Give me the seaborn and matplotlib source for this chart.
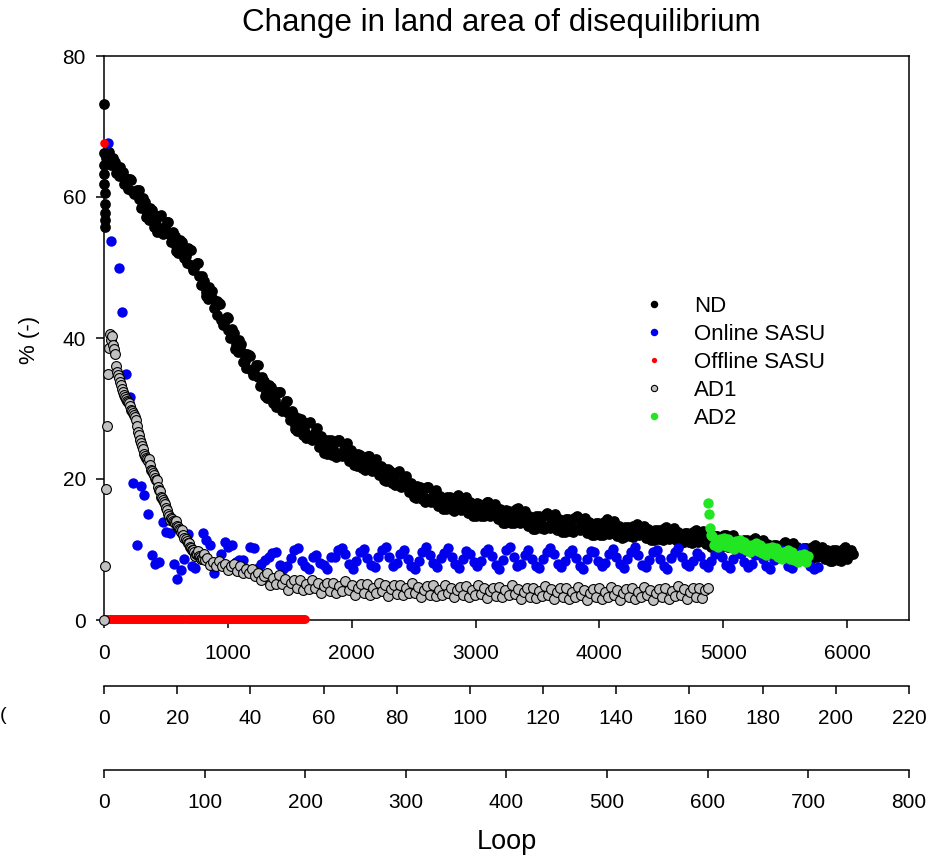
import matplotlib
matplotlib.use("Agg")
import matplotlib.pyplot as plt
from matplotlib.lines import Line2D
import seaborn as sns
import pandas as pd

sns.set_style("ticks")
plt.rcParams["font.family"] = ["Liberation Sans", "DejaVu Sans"]
plt.rcParams["text.color"] = "black"

# ---------------- data ----------------
# ND: plotted against the 0-6500 loop axis
nd_start_loop = [0, 1, 2, 3, 4, 5, 6, 7, 8, 9, 15, 20]
nd_start_val = [73.2, 66.2, 64.6, 63.2, 61.8, 60.6, 59.0, 57.8, 56.7, 55.8, 65.6, 66.1]

nd_loop_a = list(range(30, 6031, 30)) + [6045]
nd_val_a = [
    66.2, 64.6, 65.0, 63.0, 63.6, 62.0, 62.5, 60.4, 61.0,
    58.5, 59.3, 56.7, 58.1, 56.1, 57.3, 54.8, 56.4, 53.6, 54.5,
    52.0, 53.6, 51.6, 52.6, 49.6, 50.7, 47.5, 48.1, 45.5, 46.7,
    44.4, 44.9, 41.8, 43.0, 40.0, 40.7, 38.0, 39.1, 36.8, 37.6,
    34.7, 36.2, 33.2, 33.9, 31.5, 33.1, 31.2, 32.3, 29.6, 31.1,
    28.3, 29.2, 26.8, 28.5, 26.7, 28.0, 25.5, 27.1, 24.5, 25.7,
    23.6, 25.5, 24.0, 25.5, 23.2, 25.0, 22.5,
    23.7, 21.9, 23.4, 22.0, 23.2, 21.2, 22.7, 20.5, 21.5, 19.7,
    21.2, 19.8, 21.0, 18.9, 20.3, 18.1, 19.1, 17.3, 18.8, 17.5,
    18.8, 16.8, 18.3, 16.2, 17.3, 15.7, 17.4, 16.1, 17.5, 15.6,
    17.2, 15.2, 16.4, 14.8, 16.5, 15.3, 16.7, 14.7, 16.3, 14.3,
    15.4, 13.8, 15.5, 14.3, 15.7, 13.8, 15.3, 13.3, 14.5, 12.9,
    14.7, 13.5, 15.0, 13.1, 14.8, 12.8, 14.1, 12.5, 14.3, 13.1,
    14.6, 12.7, 14.3, 12.4, 13.6, 12.0, 13.8, 12.6, 14.1, 12.2,
    13.9, 11.9,
    13.0, 11.8, 13.2, 12.3, 13.4, 12.0, 13.2, 11.7, 12.6, 11.4,
    12.8, 11.9, 13.0, 11.5, 12.8, 11.3, 12.2, 11.0, 12.4, 11.5,
    12.6, 11.0, 12.4, 10.8, 11.7, 10.5, 11.9, 10.9, 12.0, 10.4,
    11.8, 10.2, 11.1, 9.8, 11.3, 10.3, 11.4, 9.9, 11.2, 9.6,
    10.6, 9.3, 10.7, 9.7, 10.9, 9.3, 10.7, 9.1, 10.0, 8.8,
    10.2, 9.3, 10.4, 8.9, 10.2, 8.7, 9.6, 8.4, 9.9, 8.9,
    10.1, 8.7, 10.0,
    9.3,
]

nd_loop_b = list(range(45, 6016, 30))
nd_val_b = [
    65.2, 65.5, 63.8, 63.5, 61.9, 62.6, 60.9, 60.8, 59.7,
    59.9, 57.7, 57.7, 55.8, 57.3, 55.3, 55.7, 54.7, 55.0, 53.0,
    53.1, 51.3, 52.7, 50.4, 50.3, 48.8, 48.8, 46.5, 46.4, 44.2,
    45.2, 42.6, 42.5, 41.2, 41.3, 39.1, 38.9, 36.6, 37.8, 35.4,
    35.6, 34.4, 34.5, 32.4, 32.6, 30.8, 32.3, 30.2, 30.5, 29.4,
    29.7, 27.7, 28.0, 26.3, 27.9, 26.0, 26.4, 25.5, 26.1, 24.4,
    24.9, 23.4, 25.3, 23.6, 24.2, 23.5, 24.1,
    22.6, 22.9, 21.6, 23.1, 21.6, 22.1, 21.4, 21.9, 20.4, 20.7,
    19.4, 20.9, 19.3, 19.7, 19.0, 19.5, 18.0, 18.3, 17.1, 18.7,
    17.2, 17.7, 17.0, 17.6, 16.3, 16.8, 15.7, 17.3, 15.9, 16.5,
    16.0, 16.7, 15.4, 15.9, 14.8, 16.5, 15.1, 15.6, 15.1, 15.7,
    14.4, 14.9, 13.8, 15.5, 14.1, 14.7, 14.1, 14.8, 13.5, 14.1,
    13.0, 14.8, 13.4, 14.1, 13.6, 14.3, 13.1, 13.7, 12.6, 14.4,
    13.0, 13.6, 13.1, 13.9, 12.6, 13.2, 12.1, 13.9, 12.5, 13.2,
    12.7, 13.4,
    12.2, 12.7, 11.9, 13.3, 12.2, 12.7, 12.3, 12.9, 11.8, 12.3,
    11.5, 12.9, 11.8, 12.3, 11.9, 12.5, 11.4, 11.9, 11.1, 12.5,
    11.3, 11.8, 11.4, 12.0, 10.9, 11.4, 10.5, 11.9, 10.7, 11.2,
    10.8, 11.4, 10.3, 10.8, 9.9, 11.3, 10.2, 10.7, 10.2, 10.8,
    9.8, 10.2, 9.3, 10.7, 9.6, 10.1, 9.7, 10.3, 9.2, 9.7,
    8.9, 10.3, 9.2, 9.7, 9.3, 9.9, 8.8, 9.4, 8.5, 9.9,
    8.9, 9.4,
]

nd_loop_c = list(range(40, 6011, 30))
nd_val_c = [
    66.4, 64.7, 63.4, 64.2, 62.8, 61.2, 62.4, 60.5, 61.0,
    58.7, 57.1, 58.5, 57.0, 55.1, 57.4, 55.3, 56.4, 53.8, 52.4,
    53.9, 52.5, 50.6, 52.5, 49.9, 50.6, 47.6, 45.9, 47.3, 45.5,
    43.2, 44.8, 42.1, 42.9, 40.1, 38.5, 39.7, 37.9, 35.7, 37.5,
    35.1, 36.1, 33.3, 31.8, 33.4, 32.0, 30.2, 32.3, 30.0, 31.1,
    28.5, 27.1, 28.7, 27.4, 25.8, 28.1, 26.0, 27.2, 24.8, 23.7,
    25.6, 24.5, 23.1, 25.6, 23.7, 25.1, 22.8,
    22.0, 23.6, 22.6, 21.3, 23.3, 21.7, 22.8, 20.8, 19.8, 21.4,
    20.4, 19.1, 21.1, 19.3, 20.4, 18.4, 17.4, 19.0, 18.0, 16.8,
    18.9, 17.3, 18.4, 16.5, 15.7, 17.5, 16.6, 15.5, 17.7, 16.1,
    17.4, 15.6, 14.8, 16.6, 15.8, 14.7, 16.8, 15.2, 16.5, 14.6,
    13.8, 15.6, 14.8, 13.7, 15.9, 14.3, 15.5, 13.7, 12.9, 14.7,
    14.0, 12.9, 15.2, 13.6, 15.0, 13.2, 12.5, 14.3, 13.6, 12.5,
    14.8, 13.2, 14.5, 12.8, 12.0, 13.8, 13.1, 12.0, 14.3, 12.7,
    14.1, 12.3,
    11.7, 13.2, 12.6, 11.8, 13.6, 12.3, 13.4, 12.0, 11.3, 12.8,
    12.2, 11.3, 13.2, 11.9, 13.0, 11.6, 10.9, 12.4, 11.8, 10.9,
    12.7, 11.5, 12.6, 11.1, 10.4, 11.9, 11.3, 10.3, 12.1, 10.9,
    12.0, 10.5, 9.8, 11.3, 10.7, 9.7, 11.6, 10.3, 11.4, 9.9,
    9.3, 10.7, 10.1, 9.2, 11.0, 9.8, 10.9, 9.4, 8.7, 10.2,
    9.6, 8.7, 10.6, 9.3, 10.4, 9.0, 8.3, 9.9, 9.3, 8.4,
    10.3, 9.1,
]

# Online SASU: plotted against the 0-220 loop axis
online_loop = [1, 2] + list(range(4, 196))
online_val = [
    67.7, 53.8,
    49.9, 43.7, 34.9, 31.7, 19.4, 10.6, 19.0, 17.8, 15.0, 9.2,
    8.0, 8.2, 13.9, 12.5, 12.3, 7.9, 5.8, 7.1, 8.6, 12.2,
    7.6, 7.4, 9.4, 12.4, 11.3, 10.6, 6.7, 8.1, 9.3, 11.0,
    10.4, 10.6, 8.2, 8.5, 8.5, 7.1, 10.3, 10.2, 7.4, 7.9,
    8.5, 9.0, 9.5, 9.7, 7.8, 7.2, 7.6, 8.8, 10.0, 10.2,
    8.3, 7.6, 7.3, 9.0, 9.2, 8.1, 7.8, 7.3, 9.0,
    9.0, 10.0, 10.2, 9.4, 8.0, 7.3, 8.3, 9.6, 10.1, 8.8,
    7.8, 7.5, 8.9, 9.9, 10.3, 9.0, 7.6, 8.1, 9.3, 10.0,
    8.6, 7.7, 7.2, 8.4, 9.7, 10.4, 9.2, 8.1, 7.5, 8.8,
    9.5, 10.2, 8.9, 7.9, 7.4, 8.6, 9.8, 9.4, 8.2, 7.6,
    8.3, 9.6, 10.1, 9.1, 7.8, 7.3, 8.5, 9.9, 10.3, 9.0,
    7.7, 8.0, 9.2, 9.9, 8.7, 7.6, 7.4, 8.7, 9.7, 10.2,
    9.3, 8.0, 7.5, 8.4, 9.5, 10.0, 8.8, 7.7, 7.3, 8.6,
    9.8, 9.6, 8.3, 7.6, 8.1, 9.4, 10.1, 9.0, 7.9, 7.4,
    8.7, 9.6, 10.3, 9.2, 7.8, 7.5, 8.5, 9.7, 9.9, 8.6,
    7.7, 7.3, 8.8, 9.6, 10.2, 9.0, 7.9, 7.6, 8.4, 9.5,
    9.1, 8.0, 7.5, 8.3, 9.4, 10.0, 8.9, 7.8, 7.4, 8.6,
    9.6, 9.3, 8.2, 7.5, 8.0, 9.2, 9.8, 8.7, 7.6, 7.3,
    8.5, 9.4, 9.9, 8.8, 7.7, 7.4, 8.3, 9.5, 10.2, 8.9,
    7.6, 7.2, 7.5,
]

# Offline SASU, AD1, AD2: plotted against the 0-800 loop axis
offline_loop = list(range(0, 201))
offline_val = [67.7] + [0.2] * 200

ad1_loop = list(range(0, 101)) + list(range(102, 601, 3))
ad1_val = [
    0.0, 7.7, 18.6, 27.5, 34.9, 38.6, 40.6, 39.7, 40.3, 39.0,
    38.4, 37.7, 36.0, 35.2, 34.8, 34.3, 33.8, 33.3, 32.8, 32.3,
    31.9, 31.6, 31.3, 31.1, 30.9, 30.8, 30.4, 29.8, 29.6, 29.3,
    29.1, 28.8, 28.4, 27.5, 26.7, 26.2, 25.6, 25.1, 24.7, 24.3,
    23.5, 23.2, 23.0, 22.8, 22.6, 22.9, 22.0, 21.3, 21.2, 20.8,
    20.5, 20.2, 19.9, 19.8, 18.9, 18.4, 18.3, 17.5, 17.3, 17.0,
    16.8, 16.4, 15.9, 15.6, 15.1, 14.7, 14.2, 14.4, 14.3, 14.1,
    13.9, 13.8, 14.0, 13.4, 13.2, 12.9, 12.7, 12.5, 12.8, 12.0,
    11.7, 11.5, 11.2, 10.9, 10.9, 10.4, 10.2, 10.0, 9.9, 9.7,
    9.1, 9.4, 9.3, 9.8, 9.1, 9.0, 8.6, 8.8, 8.7, 9.3,
    8.5,
    8.8, 7.8, 8.2, 7.7, 8.4, 7.6, 8.0, 7.1, 7.7, 7.9,
    7.0, 7.7, 6.7, 7.2, 6.6, 7.2, 6.3, 6.6, 5.7, 6.2,
    6.7, 5.0, 5.9, 5.1, 6.4, 5.1, 5.8, 4.3, 5.3, 5.7,
    4.5, 5.7, 4.2, 5.1, 4.4, 5.7, 4.5, 5.2, 3.8, 4.8,
    5.3, 4.1, 5.3, 3.8, 4.8, 4.1, 5.5, 4.2, 5.0, 3.6,
    4.6, 5.1, 3.9, 5.1, 3.6, 4.6, 3.9, 5.3, 4.1, 4.9,
    3.4, 4.4, 4.9, 3.7, 5.0, 3.5, 4.5, 3.8, 5.2, 3.9,
    4.7, 3.3, 4.3, 4.8, 3.6, 4.9, 3.4, 4.3, 3.6, 5.0,
    3.8, 4.6, 3.2, 4.2, 4.7, 3.5, 4.8, 3.3, 4.2, 3.5,
    4.9, 3.7, 4.5, 3.1, 4.1, 4.6, 3.4, 4.7, 3.2, 4.2,
    3.5, 4.9, 3.7, 4.4, 3.0, 4.0, 4.5, 3.3, 4.6, 3.1,
    4.1, 3.4, 4.8, 3.6, 4.4, 3.0, 4.0, 4.5, 3.3, 4.5,
    3.0, 4.0, 3.3, 4.7, 3.5, 4.3, 2.9, 3.9, 4.4, 3.2,
    4.5, 3.0, 4.0, 3.3, 4.7, 3.5, 4.3, 2.9, 3.9, 4.4,
    3.2, 4.5, 3.0, 4.0, 3.3, 4.7, 3.5, 4.3, 2.9, 3.9,
    4.4, 3.2, 4.5, 3.0, 4.1, 3.4, 4.8, 3.6, 4.4, 3.0,
    4.0, 4.5, 3.3, 4.6, 3.1, 4.2, 4.6,
]

ad2_loop = [600, 601, 602, 603] + list(range(604, 701, 2))
ad2_val = [
    16.6, 15.0, 13.0, 12.1,
    11.9, 10.7, 11.4, 10.4, 11.5, 10.8, 11.7, 10.5, 11.5, 10.4,
    11.0, 10.1, 11.2, 10.5, 11.3, 10.2, 11.1, 10.0, 10.6, 9.7,
    10.7, 10.1, 10.9, 9.8, 10.7, 9.5, 10.2, 9.2, 10.2, 9.6,
    10.4, 9.3, 10.2, 9.0, 9.7, 8.7, 9.7, 9.1, 9.9, 8.7,
    9.7, 8.5, 9.1, 8.2, 9.2, 8.5, 9.4, 8.2, 9.1,
]

series_names = ["ND", "Online SASU", "Offline SASU", "AD1", "AD2"]
main_ticks = [0, 1000, 2000, 3000, 4000, 5000, 6000]
mid_ticks = [0, 20, 40, 60, 80, 100, 120, 140, 160, 180, 200, 220]
low_ticks = [0, 100, 200, 300, 400, 500, 600, 700, 800]
y_ticks = [0, 20, 40, 60, 80]

# ---------------- figure ----------------
W, H = 937, 856
fig = plt.figure(figsize=(W / 100, H / 100), dpi=100)
left, right, top, bottom = 104, 909, 56, 620
ax = fig.add_axes([left / W, 1 - bottom / H, (right - left) / W, (bottom - top) / H])
ax_mid = ax.twiny()
ax_low = ax.twiny()

TICK_FS = 15
LW = 1.1

nd_df = pd.DataFrame({
    "loop": nd_start_loop + nd_loop_a + nd_loop_b + nd_loop_c,
    "pct": nd_start_val + nd_val_a + nd_val_b + nd_val_c,
})
on_df = pd.DataFrame({"loop": online_loop, "pct": online_val})
off_df = pd.DataFrame({"loop": offline_loop, "pct": offline_val})
ad1_df = pd.DataFrame({"loop": ad1_loop, "pct": ad1_val})
ad2_df = pd.DataFrame({"loop": ad2_loop, "pct": ad2_val})

sns.scatterplot(data=nd_df, x="loop", y="pct", ax=ax, color="black",
                s=60, linewidth=0, legend=False, clip_on=False)
sns.scatterplot(data=on_df, x="loop", y="pct", ax=ax_mid, color="#0000ee",
                s=56, linewidth=0, legend=False, clip_on=False)
sns.scatterplot(data=off_df, x="loop", y="pct", ax=ax_low, color="#ff0000",
                s=38, linewidth=0, legend=False, clip_on=False)
sns.scatterplot(data=ad1_df, x="loop", y="pct", ax=ax_low, color="#c0c0c0",
                s=50, edgecolor="black", linewidth=0.8, legend=False, clip_on=False)
sns.scatterplot(data=ad2_df, x="loop", y="pct", ax=ax_low, color="#22e622",
                s=56, linewidth=0, legend=False, clip_on=False)

# main axes: framed box, 0-6500 loop axis
ax.set_xlim(0, 6500)
ax.set_ylim(0, 80)
ax.set_xticks(main_ticks)
ax.set_yticks(y_ticks)
ax.set_xlabel("")
ax.set_ylabel("")
for s in ax.spines.values():
    s.set_linewidth(LW)
    s.set_color("black")
ax.tick_params(axis="both", direction="out", length=6, width=LW,
               labelsize=TICK_FS, pad=7, colors="black")
ax.tick_params(axis="x", pad=11)

# secondary loop axes stacked below the plot
for a, lim, ticks, off in ((ax_mid, 220, mid_ticks, 47.5), (ax_low, 800, low_ticks, 108)):
    a.set_xlim(0, lim)
    a.set_xticks(ticks)
    a.set_xlabel("")
    a.set_ylabel("")
    a.xaxis.set_ticks_position("bottom")
    a.xaxis.set_label_position("bottom")
    a.spines["bottom"].set_position(("outward", off))
    a.spines["bottom"].set_linewidth(LW)
    a.spines["bottom"].set_color("black")
    for side in ("top", "left", "right"):
        a.spines[side].set_visible(False)
    a.tick_params(axis="x", direction="out", length=6, width=LW,
                  labelsize=TICK_FS, pad=10.5, colors="black")
    a.patch.set_visible(False)

fig.text(501 / W, 1 - 23 / H, "Change in land area of disequilibrium",
         ha="center", va="center", fontsize=22.6, color="black")
fig.text(507 / W, 1 - 842 / H, "Loop", ha="center", va="center",
         fontsize=19.5, color="black")
fig.text(30 / W, 1 - 340 / H, "% (-)", ha="center", va="center",
         rotation=90, fontsize=16, color="black")
fig.text(0, 1 - 716 / H, "(", ha="left", va="center", fontsize=14, color="black")

handles = [
    Line2D([], [], ls="", marker="o", color="black", markersize=5.4, markeredgewidth=0),
    Line2D([], [], ls="", marker="o", color="#0000ee", markersize=5.4, markeredgewidth=0),
    Line2D([], [], ls="", marker="o", color="#ff0000", markersize=3.8, markeredgewidth=0),
    Line2D([], [], ls="", marker="o", markerfacecolor="#c0c0c0",
           markeredgecolor="black", markersize=4.5, markeredgewidth=0.8),
    Line2D([], [], ls="", marker="o", color="#22e622", markersize=5.4, markeredgewidth=0),
]
leg = fig.legend(handles, series_names, loc="upper left",
                 bbox_to_anchor=(643 / W, 1 - 296 / H), frameon=False,
                 fontsize=16, handlelength=1.0, handletextpad=1.3,
                 labelspacing=0.31, borderpad=0, borderaxespad=0)
for t in leg.get_texts():
    t.set_color("black")

fig.savefig("out.png", dpi=100)
